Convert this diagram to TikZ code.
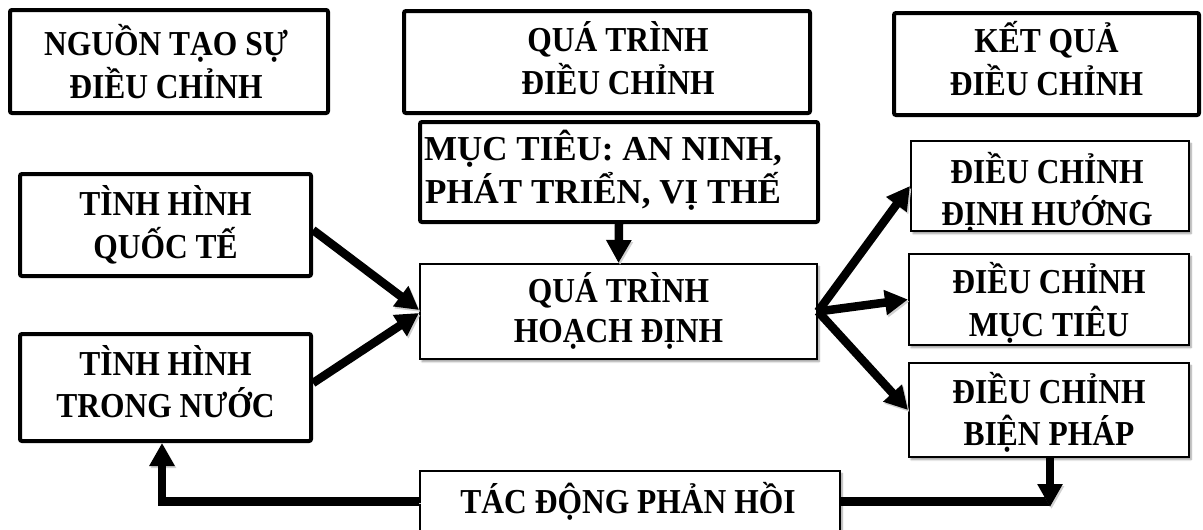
\documentclass[tikz,border=0pt]{standalone}
\usepackage{fontspec}
\usepackage{graphicx}
\setmainfont{Liberation Serif}
\usetikzlibrary{arrows.meta,shadows.blur}

% label: #1 horizontal offset, #2 vertical offset, #3 width factor, #4 lines
\newcommand{\tx}[4]{\hspace*{#1}\raisebox{#2}[\height][\depth]{%
  \scalebox{#3}[1]{\begin{tabular}{@{}c@{}}#4\end{tabular}}}\hspace*{-#1}}

\begin{document}
\begin{tikzpicture}[x=1pt,y=-1pt,
  every node/.style={font=\fontsize{35}{40}\selectfont\bfseries,
    inner sep=0pt, fill=white},
  heavy/.style={draw, line width=4pt, outer sep=2pt, rounded corners=2pt},
  light/.style={draw, line width=2pt, outer sep=1pt,
    blur shadow={shadow xshift=2pt, shadow yshift=-2.5pt,
      shadow blur steps=6, shadow opacity=40}},
  ghost/.style={preaction={draw=black!18, transform canvas={xshift=1.5pt, yshift=-2pt}}},
  arr/.style={ghost, line width=8.5pt, -{Triangle[width=24pt,length=23pt]}},
  link/.style={ghost, line width=8.5pt},
  ]
\path[use as bounding box, clip] (0,0) rectangle (1203,530);

% connectors drawn first so their soft offsets sit under the boxes
\coordinate (fbtip) at (1050,507);

% column headings
\node[heavy, minimum width=318pt, minimum height=103pt] (src)  at (169,61.5)
  {\tx{-3pt}{-5.5pt}{0.9}{NGUỒN TẠO SỰ\\ĐIỀU CHỈNH}};
\node[heavy, minimum width=406pt, minimum height=102pt] (proc) at (607,62)
  {\tx{11pt}{-2pt}{0.9}{QUÁ TRÌNH\\ĐIỀU CHỈNH}};
\node[heavy, minimum width=305pt, minimum height=102pt] (res)  at (1046.5,64)
  {\tx{0pt}{0pt}{0.9}{KẾT QUẢ\\ĐIỀU CHỈNH}};

% sources
\node[heavy, minimum width=291pt, minimum height=102pt] (qt) at (165.5,225)
  {\tx{0pt}{-3pt}{0.9}{TÌNH HÌNH\\QUỐC TẾ}};
\node[heavy, minimum width=291pt, minimum height=107pt] (tn) at (165.5,387.5)
  {\tx{0pt}{0pt}{0.9}{TÌNH HÌNH\\TRONG NƯỚC}};

% process
\node[heavy, minimum width=398pt, minimum height=100pt] (goal) at (619,172)
  {\tx{-16pt}{-1pt}{1}{MỤC TIÊU: AN NINH,\\PHÁT TRIỂN, VỊ THẾ}};
\node[light, minimum width=397pt, minimum height=95pt] (hd) at (618.5,311.5)
  {\tx{0pt}{-1.5pt}{0.9}{QUÁ TRÌNH\\HOẠCH ĐỊNH}};

% results
\node[light, minimum width=278pt, minimum height=90pt] (dh) at (1050,186)
  {\tx{-3pt}{-9pt}{0.9}{ĐIỀU CHỈNH\\ĐỊNH HƯỚNG}};
\node[light, minimum width=280pt, minimum height=91pt] (mt) at (1049,299.5)
  {\tx{0pt}{-6pt}{0.9}{ĐIỀU CHỈNH\\MỤC TIÊU}};
\node[light, minimum width=280pt, minimum height=94pt] (bp) at (1049,410)
  {\tx{0pt}{-5pt}{0.9}{ĐIỀU CHỈNH\\BIỆN PHÁP}};

% feedback
\node[light, minimum width=420pt, minimum height=61pt] (td) at (630,501.5)
  {\tx{-2pt}{-2.5pt}{0.9}{TÁC ĐỘNG PHẢN HỒI}};

% connectors
\draw[arr] ([yshift=-5pt]qt.east) -- ([yshift=1.5pt]hd.west);
\draw[arr] ([yshift=4.5pt]tn.east) -- ([yshift=-1.5pt]hd.west);
\draw[arr] (goal.south) -- (hd.north);
\draw[arr] (hd.east) -- (dh.west);
\draw[arr] (hd.east) -- (mt.west);
\draw[arr] (hd.east) -- (bp.west);

\draw[link] (td.east) -- (td.east -| fbtip);
\draw[arr] ([xshift=1pt]bp.south) -- ([xshift=1pt]bp.south |- fbtip);
\draw[arr] (td.west) -| ([xshift=-3.5pt]tn.south);
\end{tikzpicture}
\end{document}
